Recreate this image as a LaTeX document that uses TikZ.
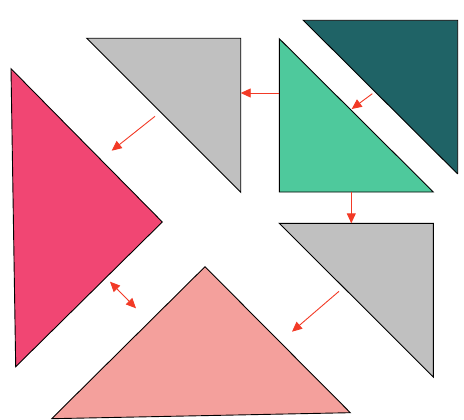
\documentclass[tikz,border=0pt]{standalone}
\usepackage{tikz}
\usetikzlibrary{arrows.meta}

\definecolor{tealdark}{RGB}{31,99,102}
\definecolor{mint}{RGB}{78,201,156}
\definecolor{greypiece}{RGB}{192,192,192}
\definecolor{rose}{RGB}{241,70,115}
\definecolor{salmon}{RGB}{244,160,156}
\definecolor{arrowred}{RGB}{242,58,38}

\begin{document}
\begin{tikzpicture}[x=1pt,y=-1pt,
	piece/.style={draw=black, line width=0.9pt, line join=miter},
	move/.style={arrowred, line width=0.9pt, -{Triangle[length=10pt,width=9pt]}},
	swap/.style={arrowred, line width=0.9pt, {Triangle[length=10pt,width=9pt]}-{Triangle[length=10pt,width=9pt]}}]

\useasboundingbox (0,0) rectangle (464,420);

%dark teal
\coordinate (t1) at (303.3,20.3) {};
\coordinate (t2) at (457.7,20.3) {};
\coordinate (t3) at (457.7,174) {};
%green
\coordinate (g1) at (279.3,38.7) {};
\coordinate (g2) at (279.3,192) {};
\coordinate (g3) at (433.3,192) {};
%grey top
\coordinate (a1) at (86.7,38.3) {};
\coordinate (a2) at (240.7,38.3) {};
\coordinate (a3) at (240.7,192.3) {};
%grey right
\coordinate (b1) at (279.3,223.3) {};
\coordinate (b2) at (433.3,223.3) {};
\coordinate (b3) at (433.3,377) {};
%pink
\coordinate (p1) at (11,68.7) {};
\coordinate (p2) at (162.3,222) {};
\coordinate (p3) at (15.7,366.7) {};
%salmon
\coordinate (s1) at (205,266.7) {};
\coordinate (s2) at (350.3,412.7) {};
\coordinate (s3) at (51.7,418.7) {};

%pieces
\fill[tealdark]  (t1)--(t2)--(t3)--cycle;
\draw[piece]     (t3)--(t1)--(t2)--(t3);
\fill[mint]      (g1)--(g2)--(g3)--cycle;
\draw[piece]     (g1)--(g2)--(g3)--cycle;
\fill[greypiece] (a1)--(a2)--(a3)--cycle;
\draw[piece]     (a1)--(a2)--(a3)--cycle;
\fill[greypiece] (b1)--(b2)--(b3)--cycle;
\draw[piece]     (b1)--(b2)--(b3)--cycle;
\fill[rose]      (p1)--(p2)--(p3)--cycle;
\draw[piece]     (p1)--(p2)--(p3)--cycle;
\fill[salmon]    (s1)--(s2)--(s3)--cycle;
\draw[piece]     (s1)--(s2)--(s3)--cycle;

%arrow ends
\coordinate (m1) at (279.3,93) {};
\coordinate (n1) at (240.7,93) {};
\coordinate (m2) at (372.3,93.7) {};
\coordinate (n2) at (351.7,109) {};
\coordinate (m3) at (351.3,192) {};
\coordinate (n3) at (351.3,223.3) {};
\coordinate (m4) at (155,116.3) {};
\coordinate (n4) at (111.7,150.7) {};
\coordinate (m5) at (339,291.3) {};
\coordinate (n5) at (292,331.7) {};
\coordinate (m6) at (110,281.7) {};
\coordinate (n6) at (136,308.3) {};

%arrows
\draw[move] (m1)--(n1);
\draw[move] (m2)--(n2);
\draw[move] (m3)--(n3);
\draw[move] (m4)--(n4);
\draw[move] (m5)--(n5);
\draw[swap] (m6)--(n6);

\end{tikzpicture}
\end{document}
